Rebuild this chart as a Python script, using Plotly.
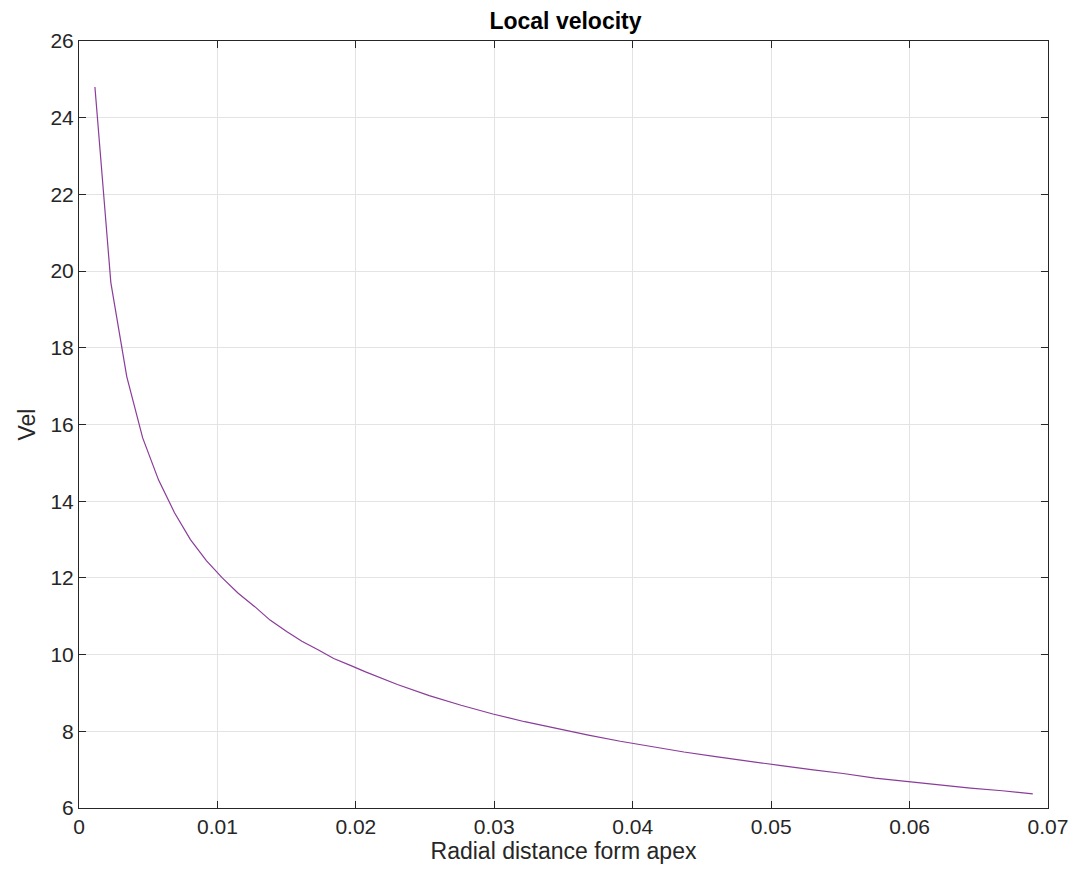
import plotly.graph_objects as go

radial_distance = [0.00115, 0.0023, 0.00345, 0.0046, 0.00575, 0.0069, 0.00805, 0.0092,
                   0.01035, 0.0115, 0.0127, 0.0138, 0.015, 0.0161, 0.0173, 0.0184,
                   0.0196, 0.0207, 0.023, 0.0253, 0.0276, 0.0299, 0.0322, 0.0345,
                   0.0368, 0.0391, 0.0414, 0.0437, 0.046, 0.0483, 0.0506, 0.0529,
                   0.0552, 0.0575, 0.0598, 0.0621, 0.0644, 0.0667, 0.0689]
velocity = [24.8, 19.7, 17.25, 15.65, 14.55, 13.7, 13.0, 12.45,
            12.0, 11.6, 11.25, 10.9, 10.6, 10.35, 10.12, 9.9,
            9.72, 9.55, 9.22, 8.93, 8.68, 8.45, 8.25, 8.07,
            7.9, 7.74, 7.6, 7.46, 7.34, 7.22, 7.11, 7.0,
            6.9, 6.78, 6.69, 6.6, 6.52, 6.45, 6.37]

x_ticks = [0, 0.01, 0.02, 0.03, 0.04, 0.05, 0.06, 0.07]
x_tick_labels = ["0", "0.01", "0.02", "0.03", "0.04", "0.05", "0.06", "0.07"]
y_ticks = [6, 8, 10, 12, 14, 16, 18, 20, 22, 24, 26]

font_family = "Liberation Sans, Arial, Helvetica, sans-serif"

fig = go.Figure()
fig.add_trace(go.Scatter(
    x=radial_distance, y=velocity, mode="lines",
    line=dict(color="#8A3C9A", width=1.2),
    showlegend=False,
))

axis_common = dict(
    showline=True, linecolor="#262626", linewidth=1, mirror="ticks",
    ticks="inside", ticklen=7, tickcolor="#262626",
    showgrid=True, gridcolor="#e3e3e3", gridwidth=1,
    zeroline=False,
    tickfont=dict(family=font_family, size=21, color="#262626"),
)

fig.update_xaxes(
    range=[0, 0.07], tickvals=x_ticks, ticktext=x_tick_labels,
    title=dict(text="Radial distance form apex", font=dict(family=font_family, size=23, color="#262626"), standoff=2),
    **axis_common,
)
fig.update_yaxes(
    range=[6, 26], tickvals=y_ticks,
    title=dict(text="Vel", font=dict(family=font_family, size=23, color="#262626"), standoff=8),
    **axis_common,
)

fig.update_layout(
    width=1080, height=871,
    margin=dict(l=79, r=28, t=41, b=63),
    paper_bgcolor="white", plot_bgcolor="white",
    title=dict(text="<b>Local velocity</b>", x=0.5236, xanchor="center", y=0.976, yanchor="middle",
               font=dict(family=font_family, size=23, color="black")),
)

fig.write_html("out.html")
